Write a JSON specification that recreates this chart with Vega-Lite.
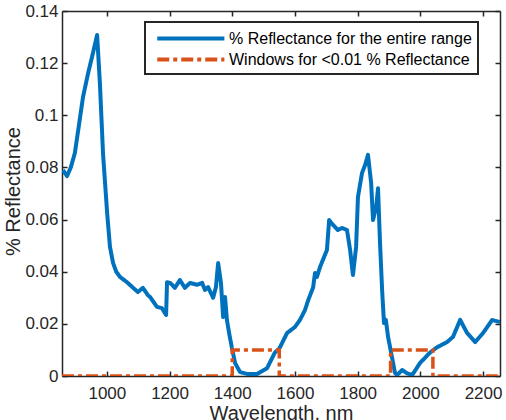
{
  "$schema": "https://vega.github.io/schema/vega-lite/v6.json",
  "autosize": {"type": "none"},
  "padding": {"left": 62, "top": 11, "right": 6, "bottom": 44},
  "width": 438,
  "height": 365,
  "config": {
    "view": {"stroke": null},
    "font": "Liberation Sans",
    "axis": {
      "grid": false,
      "domainColor": "#262626",
      "domainWidth": 1.5,
      "tickColor": "#262626",
      "tickWidth": 1.5,
      "tickSize": -5,
      "labelFont": "Liberation Sans",
      "labelFontSize": 17,
      "labelColor": "#262626",
      "titleFont": "Liberation Sans",
      "titleFontSize": 20,
      "titleFontWeight": "normal",
      "titleColor": "#262626"
    },
    "legend": {
      "orient": "none",
      "legendX": 83,
      "legendY": 11,
      "strokeColor": "#262626",
      "strokeWidth": 2,
      "fillColor": "white",
      "padding": 6,
      "labelFont": "Liberation Sans",
      "labelFontSize": 16,
      "labelColor": "black",
      "labelLimit": 400,
      "symbolType": "M-0.5,0H7.4",
      "symbolSize": 289,
      "symbolStrokeWidth": 4,
      "labelOffset": 57,
      "title": null
    }
  },
  "datasets": {
    "spec": [
      {"wl": 860, "r": 0.079}, {"wl": 873, "r": 0.0767}, {"wl": 885, "r": 0.080}, {"wl": 898, "r": 0.0855},
      {"wl": 912, "r": 0.097}, {"wl": 924, "r": 0.107}, {"wl": 940, "r": 0.116}, {"wl": 956, "r": 0.124},
      {"wl": 969, "r": 0.1308}, {"wl": 978, "r": 0.112}, {"wl": 988, "r": 0.085}, {"wl": 1001, "r": 0.0625},
      {"wl": 1010, "r": 0.0495}, {"wl": 1020, "r": 0.0433}, {"wl": 1030, "r": 0.040}, {"wl": 1042, "r": 0.038},
      {"wl": 1064, "r": 0.036}, {"wl": 1084, "r": 0.0338}, {"wl": 1099, "r": 0.0322}, {"wl": 1115, "r": 0.0338},
      {"wl": 1131, "r": 0.031}, {"wl": 1138, "r": 0.0303}, {"wl": 1160, "r": 0.0265}, {"wl": 1176, "r": 0.026},
      {"wl": 1189, "r": 0.0234}, {"wl": 1192, "r": 0.036}, {"wl": 1202, "r": 0.0357}, {"wl": 1217, "r": 0.0338},
      {"wl": 1233, "r": 0.0368}, {"wl": 1249, "r": 0.0338}, {"wl": 1265, "r": 0.0357}, {"wl": 1288, "r": 0.035},
      {"wl": 1304, "r": 0.0357}, {"wl": 1313, "r": 0.033}, {"wl": 1323, "r": 0.0341}, {"wl": 1339, "r": 0.030},
      {"wl": 1348, "r": 0.0341}, {"wl": 1355, "r": 0.0433}, {"wl": 1364, "r": 0.0357}, {"wl": 1371, "r": 0.0226},
      {"wl": 1377, "r": 0.0303}, {"wl": 1383, "r": 0.0215}, {"wl": 1390, "r": 0.0165}, {"wl": 1399, "r": 0.0107},
      {"wl": 1409, "r": 0.005}, {"wl": 1418, "r": 0.003}, {"wl": 1425, "r": 0.0015}, {"wl": 1447, "r": 0.0008},
      {"wl": 1479, "r": 0.0008}, {"wl": 1511, "r": 0.003}, {"wl": 1536, "r": 0.009}, {"wl": 1550, "r": 0.0105},
      {"wl": 1575, "r": 0.0165}, {"wl": 1600, "r": 0.0188}, {"wl": 1616, "r": 0.0215}, {"wl": 1632, "r": 0.0253},
      {"wl": 1642, "r": 0.029}, {"wl": 1658, "r": 0.034}, {"wl": 1664, "r": 0.0395}, {"wl": 1670, "r": 0.038},
      {"wl": 1680, "r": 0.0418}, {"wl": 1693, "r": 0.0457}, {"wl": 1702, "r": 0.0483}, {"wl": 1709, "r": 0.0598},
      {"wl": 1721, "r": 0.058}, {"wl": 1737, "r": 0.056}, {"wl": 1750, "r": 0.0568}, {"wl": 1766, "r": 0.056},
      {"wl": 1776, "r": 0.0483}, {"wl": 1785, "r": 0.0387}, {"wl": 1795, "r": 0.0495}, {"wl": 1801, "r": 0.0687},
      {"wl": 1814, "r": 0.0779}, {"wl": 1824, "r": 0.081}, {"wl": 1833, "r": 0.0848}, {"wl": 1843, "r": 0.074},
      {"wl": 1849, "r": 0.0598}, {"wl": 1859, "r": 0.0648}, {"wl": 1865, "r": 0.072}, {"wl": 1871, "r": 0.052},
      {"wl": 1878, "r": 0.033}, {"wl": 1884, "r": 0.0203}, {"wl": 1890, "r": 0.0215}, {"wl": 1897, "r": 0.015},
      {"wl": 1910, "r": 0.0069}, {"wl": 1919, "r": 0.0012}, {"wl": 1926, "r": 0.0004}, {"wl": 1942, "r": 0.0023},
      {"wl": 1958, "r": 0.001}, {"wl": 1974, "r": 0.0004}, {"wl": 1999, "r": 0.005}, {"wl": 2031, "r": 0.009},
      {"wl": 2053, "r": 0.011}, {"wl": 2085, "r": 0.013}, {"wl": 2104, "r": 0.015}, {"wl": 2127, "r": 0.0215},
      {"wl": 2149, "r": 0.0165}, {"wl": 2175, "r": 0.013}, {"wl": 2200, "r": 0.0165}, {"wl": 2229, "r": 0.0215},
      {"wl": 2254, "r": 0.0207}
    ],
    "win": [
      {"i": 0, "wl": 857, "r": 0}, {"i": 1, "wl": 1400, "r": 0}, {"i": 2, "wl": 1400, "r": 0.01},
      {"i": 3, "wl": 1550, "r": 0.01}, {"i": 4, "wl": 1550, "r": 0}, {"i": 5, "wl": 1905, "r": 0},
      {"i": 6, "wl": 1905, "r": 0.01}, {"i": 7, "wl": 2040, "r": 0.01}, {"i": 8, "wl": 2040, "r": 0},
      {"i": 9, "wl": 2254, "r": 0}
    ]
  },
  "layer": [
    {
      "data": {"name": "spec"},
      "transform": [{"calculate": "'% Reflectance for the entire range'", "as": "series"}],
      "mark": {"type": "line", "strokeWidth": 4, "strokeJoin": "round", "clip": true},
      "encoding": {
        "x": {"field": "wl", "type": "quantitative",
              "scale": {"domain": [857, 2254], "nice": false, "zero": false},
              "axis": {"orient": "bottom", "values": [1000, 1200, 1400, 1600, 1800, 2000, 2200], "format": "d",
                       "labelPadding": 14, "title": "Wavelength, nm", "titleBaseline": "alphabetic", "titleY": 43}},
        "y": {"field": "r", "type": "quantitative",
              "scale": {"domain": [0, 0.14], "nice": false},
              "axis": {"orient": "left", "values": [0, 0.02, 0.04, 0.06, 0.08, 0.1, 0.12, 0.14], "format": "~g",
                       "labelPadding": 9, "title": "% Reflectance", "titleBaseline": "alphabetic", "titleX": -43, "titleY": 180}},
        "color": {"field": "series", "type": "nominal",
                  "scale": {"domain": ["% Reflectance for the entire range", "Windows for <0.01 % Reflectance"], "range": ["#0072BD", "#D95319"]}},
        "strokeDash": {"field": "series", "type": "nominal",
                  "scale": {"domain": ["% Reflectance for the entire range", "Windows for <0.01 % Reflectance"], "range": [[1, 0], [12, 4, 4, 4]]}}
      }
    },
    {
      "data": {"name": "win"},
      "transform": [{"calculate": "'Windows for <0.01 % Reflectance'", "as": "series"}],
      "mark": {"type": "line", "strokeWidth": 3.5, "clip": true},
      "encoding": {
        "x": {"field": "wl", "type": "quantitative",
              "axis": {"orient": "top", "values": [1000, 1200, 1400, 1600, 1800, 2000, 2200], "labels": false, "title": null}},
        "y": {"field": "r", "type": "quantitative",
              "axis": {"orient": "right", "values": [0, 0.02, 0.04, 0.06, 0.08, 0.1, 0.12, 0.14], "labels": false, "title": null}},
        "order": {"field": "i", "type": "quantitative"},
        "color": {"field": "series", "type": "nominal"},
        "strokeDash": {"field": "series", "type": "nominal"}
      }
    }
  ],
  "resolve": {"axis": {"x": "independent", "y": "independent"}}
}
